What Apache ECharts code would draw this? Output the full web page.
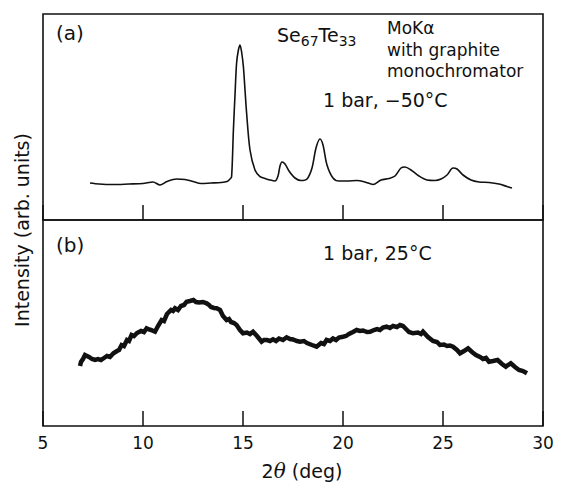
<!DOCTYPE html>
<html>
<head>
<meta charset="utf-8">
<script src="https://cdn.jsdelivr.net/npm/echarts@6/dist/echarts.min.js"></script>
<style>html,body{margin:0;padding:0;background:#fff;}#chart{width:561px;height:483px;}</style>
</head>
<body>
<div id="chart"></div>
<script>
// x ticks
const xTicks = [5, 10, 15, 20, 25, 30];

// (a) 1 bar, -50°C : 2θ (deg) and intensity (arb. units)
const angleA = [7.35,7.8,8.5,9.3,10.0,10.5,10.85,11.2,11.68,12.1,12.5,12.9,13.4,13.9,14.2,14.35,14.43,14.52,14.6,14.68,14.77,14.85,14.93,15.02,15.1,15.18,15.35,15.6,15.85,16.1,16.35,16.6,16.75,16.85,16.95,17.1,17.3,17.6,17.9,18.2,18.45,18.65,18.85,19.0,19.2,19.5,19.8,20.2,20.7,21.1,21.5,21.9,22.3,22.6,22.9,23.1,23.4,23.8,24.2,24.6,24.9,25.2,25.5,25.7,26.0,26.4,26.8,27.3,27.8,28.2,28.45];
const intensityA = [37,36,35.5,36,36.5,38,35,38.5,41,40.5,38.5,36.5,37,37.5,38.5,41,43.3,90,125,157,170,175,168,153.3,130,107,70,50,43.3,41.5,40,39,44,54,58,56,49,42,39.5,41,52,72,81,75,55,42,39,39,39.5,38,35.5,40,41.5,44,52,53,50,44,40,39.5,41,45,52,51,45,40,38,37.5,36,33.5,32];

// (b) 1 bar, 25°C
const angleB = [6.85,6.9,7.0,7.1,7.2,7.3,7.45,7.6,7.75,7.9,8.05,8.2,8.35,8.52,8.7,8.8,8.93,9.05,9.2,9.3,9.43,9.55,9.7,9.9,10.05,10.18,10.3,10.4,10.6,10.75,10.93,11.05,11.2,11.4,11.5,11.6,11.75,11.9,12.05,12.18,12.35,12.52,12.65,12.8,13.0,13.18,13.3,13.4,13.55,13.68,13.85,14.0,14.18,14.3,14.4,14.55,14.68,14.85,15.0,15.2,15.35,15.5,15.7,15.93,16.05,16.2,16.35,16.5,16.65,16.8,17.0,17.18,17.35,17.5,17.7,17.85,18.05,18.2,18.45,18.68,18.9,19.05,19.18,19.35,19.5,19.65,19.8,20.0,20.15,20.3,20.5,20.68,20.85,21.0,21.2,21.35,21.55,21.7,21.85,22.0,22.18,22.35,22.5,22.7,22.85,23.0,23.1,23.3,23.5,23.75,23.9,24.0,24.25,24.5,24.7,24.85,25.05,25.2,25.35,25.5,25.7,25.85,26.05,26.25,26.45,26.65,26.85,27.0,27.15,27.3,27.5,27.73,27.95,28.14,28.25,28.39,28.6,28.8,29.0,29.2];
const intensityB = [60,64,67,71,70,69,67,66,67,66,68,70,69,72.7,75,76,81,80,86,85,91,90,93,95,94,97.7,96.5,96,94.3,100,106,105,112,116,115,117.7,116,120,121,124.3,125,126,124,123.5,124,122.7,121,119,118,117.7,116,110,106,107,104,103,101,96,92.7,93.5,92,94.3,90,84.3,86,86,85,86.7,85,87.5,86,88.7,87,86.5,85,84.3,85,83,81,79.3,83,82,86,85,87.5,86,88.5,89.3,90,92,94,96,95,95.5,94,94.3,96,97,96,98.5,99.3,98,100,99,101,100,98,94,92.7,93.5,92,94.3,89,85,84,81,81.5,80,80.5,79.3,76,72.7,75,77.7,74,71,69,67,68,64.3,65,66,62,59.3,61,62.7,59,56,55,52.7];

const seriesA = angleA.map((a, i) => [a, intensityA[i]]);
const seriesB = angleB.map((a, i) => [a, intensityB[i]]);

const FONT = '"DejaVu Sans", Verdana, sans-serif';
const INK = '#111';
const chart = echarts.init(document.getElementById('chart'), null, {renderer: 'svg'});

const xBase = {
  type: 'value', min: 5, max: 30, interval: 5,
  axisLine: {show: false},
  axisTick: {show: true, inside: true, length: 15, lineStyle: {color: INK, width: 1.5}},
  splitLine: {show: false}
};
const yBase = {
  type: 'value', min: 0, max: 206,
  axisLine: {show: false}, axisTick: {show: false}, axisLabel: {show: false}, splitLine: {show: false}
};

function txt(x, y, text, size) {
  return {type: 'text', x: x, y: y, style: {text: text, font: size + 'px ' + FONT, fill: INK, align: 'left', verticalAlign: 'middle'}};
}

chart.setOption({
  animation: false,
  backgroundColor: '#fff',
  grid: [
    {left: 43, right: 18, top: 14, height: 206, show: true, borderColor: INK, borderWidth: 1.6, backgroundColor: 'transparent'},
    {left: 43, right: 18, top: 220, height: 206, show: true, borderColor: INK, borderWidth: 1.6, backgroundColor: 'transparent'}
  ],
  xAxis: [
    Object.assign({}, xBase, {gridIndex: 0, axisLabel: {show: false}}),
    Object.assign({}, xBase, {
      gridIndex: 1,
      axisLabel: {show: true, color: INK, fontSize: 17, fontFamily: FONT, margin: 8,
        formatter: v => xTicks.indexOf(v) >= 0 ? String(v) : ''},
      name: '{n|2}{t|θ}{n| (deg)}', nameLocation: 'middle', nameGap: 35,
      nameTextStyle: {padding: [0, 0, 0, 18], rich: {
        n: {fontSize: 19, fontFamily: FONT, color: INK},
        t: {fontSize: 20, fontFamily: '"DejaVu Serif", serif', fontStyle: 'italic', color: INK}
      }}
    })
  ],
  yAxis: [
    Object.assign({}, yBase, {gridIndex: 0}),
    Object.assign({}, yBase, {gridIndex: 1})
  ],
  series: [
    {type: 'line', xAxisIndex: 0, yAxisIndex: 0, data: seriesA, showSymbol: false, smooth: 0.3,
     lineStyle: {color: INK, width: 1.6}},
    {type: 'line', xAxisIndex: 1, yAxisIndex: 1, data: seriesB, showSymbol: false, smooth: false,
     lineStyle: {color: INK, width: 4.5, join: 'miter'}}
  ],
  graphic: [
    txt(56, 33, '(a)', 20),
    txt(56, 245, '(b)', 20),
    {type: 'text', x: 277, y: 35, style: {
      text: '{b|Se}{s|67}{b|Te}{s|33}', verticalAlign: 'middle',
      rich: {
        b: {fontSize: 19, fontFamily: FONT, fill: INK, verticalAlign: 'bottom'},
        s: {fontSize: 14, fontFamily: FONT, fill: INK, verticalAlign: 'bottom', padding: [0, 0, -3, 0]}
      }
    }},
    txt(387, 28, 'MoKα', 17),
    txt(387, 50, 'with graphite', 17),
    txt(387, 71, 'monochromator', 17),
    txt(323, 100, '1 bar, −50°C', 19),
    txt(323, 253, '1 bar, 25°C', 19),
    {type: 'text', x: 22, y: 230, rotation: Math.PI / 2, style: {text: 'Intensity (arb. units)', font: '19px ' + FONT, fill: INK, align: 'center', verticalAlign: 'middle'}}
  ]
});
</script>
</body>
</html>
